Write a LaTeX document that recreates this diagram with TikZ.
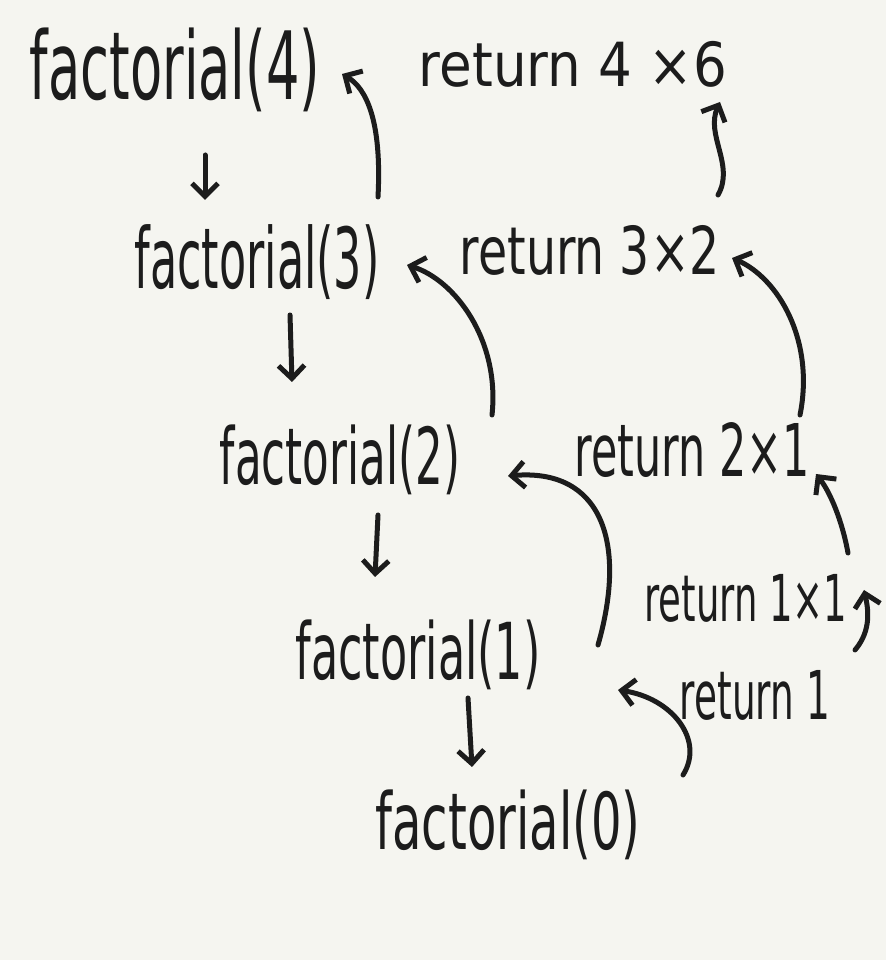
\documentclass[tikz,border=0pt]{standalone}
\usepackage{fontspec}
\setmainfont{DejaVu Sans}
\usepackage{graphicx}
\usetikzlibrary{arrows.meta}
\definecolor{paper}{HTML}{F5F5F0}
\definecolor{ink}{HTML}{1C1C1C}
\newcommand\hw[3]{\resizebox*{#1}{#2}{#3}}
\tikzset{
  lbl/.style={inner sep=0pt, text=ink},
  arr/.style={draw=ink, line width=5pt, line cap=round, -{Straight Barb[length=13pt,width=26pt]}},
}
\begin{document}
\begin{tikzpicture}[x=1pt,y=1pt]
\fill[paper] (0,0) rectangle (886,960);
\useasboundingbox (0,0) rectangle (886,960);

% texts
\node[lbl] (f4)  at (175,890) {\hw{290pt}{84pt}{factorial(4)}};
\node[lbl] (r4)  at (573,896) {\hw{308pt}{46pt}{return 4 ×6}};
\node[lbl] (f3)  at (257,698) {\hw{245pt}{75pt}{factorial(3)}};
\node[lbl] (r3)  at (590,710) {\hw{260pt}{50pt}{return 3×2}};
\node[lbl] (f2)  at (340,500) {\hw{240pt}{70pt}{factorial(2)}};
\node[lbl] (r2)  at (692,510) {\hw{235pt}{55pt}{return 2×1}};
\node[lbl] (f1)  at (418,305) {\hw{245pt}{70pt}{factorial(1)}};
\node[lbl] (r11) at (746,362) {\hw{203pt}{48pt}{return 1×1}};
\node[lbl] (r1)  at (755,265) {\hw{150pt}{50pt}{return 1}};
\node[lbl] (f0)  at (508,135) {\hw{265pt}{70pt}{factorial(0)}};

% coordinates for arrow ends
\coordinate (d1a) at (205,805); \coordinate (d1b) at (205,760);
\coordinate (d2a) at (290,645); \coordinate (d2b) at (292,578);
\coordinate (d3a) at (378,445); \coordinate (d3b) at (375,383);
\coordinate (d4a) at (468,262); \coordinate (d4b) at (472,193);

\coordinate (a1a) at (378,763); \coordinate (a1b) at (342,886);
\coordinate (a2a) at (718,765); \coordinate (a2b) at (720,858);
\coordinate (a3a) at (492,545); \coordinate (a3b) at (407,695);
\coordinate (a4a) at (800,545); \coordinate (a4b) at (732,702);
\coordinate (a5a) at (598,315); \coordinate (a5b) at (508,484);
\coordinate (a6a) at (848,407); \coordinate (a6b) at (816,486);
\coordinate (a7a) at (855,310); \coordinate (a7b) at (864,370);
\coordinate (a8a) at (683,185); \coordinate (a8b) at (618,270);

% down arrows (calls)
\draw[arr] (d1a) -- (d1b);
\draw[arr] (d2a) -- (d2b);
\draw[arr] (d3a) -- (d3b);
\draw[arr] (d4a) -- (d4b);

% return arrows
\draw[arr] (a1a) .. controls (382,840) and (366,872) .. (a1b);
\draw[arr] (a2a) .. controls (735,795) and (705,825) .. (a2b);
\draw[arr] (a3a) .. controls (500,620) and (455,680) .. (a3b);
\draw[arr] (a4a) .. controls (815,620) and (778,682) .. (a4b);
\draw[arr] (a5a) .. controls (628,420) and (600,492) .. (a5b);
\draw[arr] (a6a) .. controls (842,440) and (830,468) .. (a6b);
\draw[arr] (a7a) .. controls (872,330) and (868,352) .. (a7b);
\draw[arr] (a8a) .. controls (705,220) and (672,262) .. (a8b);
\end{tikzpicture}
\end{document}
